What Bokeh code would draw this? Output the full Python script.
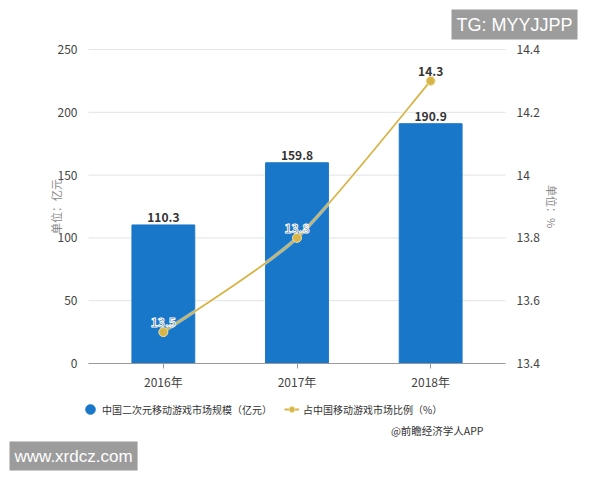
from bokeh.plotting import figure
from bokeh.models import (Range1d, LinearAxis, FixedTicker, Label, Legend, LegendItem,
                          ColumnDataSource)
from bokeh.core.properties import value
from bokeh.embed import file_html
from bokeh.resources import INLINE

years = ["2016年", "2017年", "2018年"]
market = [110.3, 159.8, 190.9]
share = [13.5, 13.8, 14.3]
left_ticks = [0, 50, 100, 150, 200, 250]
right_ticks = [13.4, 13.6, 13.8, 14.0, 14.2, 14.4]
right_tick_labels = ["13.4", "13.6", "13.8", "14", "14.2", "14.4"]

FONT = "Noto Sans CJK SC"
BLUE = "#1877c8"
GOLD = "#d8b548"
BOX = "#9c9c9c"

# ---- geometry: the whole canvas is the frame; the chart area sits inside it
W, H = 600, 480
PL, PR, PT, PB = 88, 505, 49, 363          # chart area in pixels
XL, XR = -0.56, 2.56                       # category axis extent
YL, YH = left_ticks[0], left_ticks[-1]
RL, RH = right_ticks[0], right_ticks[-1]
kx = (XR - XL) / (PR - PL)
ky = (YH - YL) / (PB - PT)
kr = (RH - RL) / (PB - PT)

xs = list(range(len(years)))

p = figure(width=W, height=H, output_backend="svg", toolbar_location=None,
           x_range=Range1d(XL - PL * kx, XR + (W - PR) * kx),
           y_range=Range1d(YL - (H - PB) * ky, YH + PT * ky),
           x_axis_location=None, y_axis_location=None,
           min_border=0, outline_line_color=None)
p.extra_y_ranges = {"pct": Range1d(RL - (H - PB) * kr, RH + PT * kr),
                    "off": Range1d(-2000, -1000)}   # legend proxies, drawn off-canvas
p.grid.visible = False

# grid lines at the left-axis ticks
p.segment(x0=[XL] * len(left_ticks), x1=[XR] * len(left_ticks), y0=left_ticks, y1=left_ticks,
          line_color="#e3e3e3", line_width=1)

# bars
src = ColumnDataSource(dict(x=xs, top=market, lbl=[f"{v:.1f}" for v in market]))
p.vbar(x="x", top="top", bottom=0, width=0.47, source=src, color=BLUE)
p.text(x="x", y="top", text="lbl", source=src, text_align="center", text_baseline="bottom",
       y_offset=-3, text_font=value(FONT), text_font_size="12px", text_font_style="bold",
       text_color="#333333")

# smooth line: bezier segments whose control points come from the data points
pts = list(zip(xs, share))
s = 0.12
bx0, by0, bx1, by1, cx0, cy0, cx1, cy1 = [], [], [], [], [], [], [], []
for i in range(len(pts) - 1):
    p0 = pts[i - 1] if i > 0 else pts[i]
    p1 = pts[i]
    p2 = pts[i + 1]
    p3 = pts[i + 2] if i + 2 < len(pts) else pts[i + 1]
    bx0.append(p1[0]); by0.append(p1[1]); bx1.append(p2[0]); by1.append(p2[1])
    cx0.append(p1[0] + (p2[0] - p0[0]) * s); cy0.append(p1[1] + (p2[1] - p0[1]) * s)
    cx1.append(p2[0] - (p3[0] - p1[0]) * s); cy1.append(p2[1] - (p3[1] - p1[1]) * s)
p.bezier(x0=bx0, y0=by0, x1=bx1, y1=by1, cx0=cx0, cy0=cy0, cx1=cx1, cy1=cy1,
         line_color="white", line_width=3.5, line_alpha=0.5, y_range_name="pct")
p.bezier(x0=bx0, y0=by0, x1=bx1, y1=by1, cx0=cx0, cy0=cy0, cx1=cx1, cy1=cy1,
         line_color=GOLD, line_width=1.8, y_range_name="pct")
lsrc = ColumnDataSource(dict(x=xs, y=share))
pts_r = p.scatter(x="x", y="y", source=lsrc, size=9, fill_color=GOLD, line_color="#f0e0a0",
                  line_width=1, y_range_name="pct")
on_bar = ColumnDataSource(dict(x=xs[:2], y=share[:2], lbl=[f"{v:.1f}" for v in share[:2]]))
off_bar = ColumnDataSource(dict(x=xs[2:], y=share[2:], lbl=[f"{v:.1f}" for v in share[2:]]))
p.text(x="x", y="y", text="lbl", source=on_bar, text_align="center", text_baseline="bottom",
       y_offset=-5, text_font=value(FONT), text_font_size="12px", text_font_style="bold",
       text_color="#24406e", text_outline_color="white", y_range_name="pct")
p.text(x="x", y="y", text="lbl", source=off_bar, text_align="center", text_baseline="bottom",
       y_offset=-5, text_font=value(FONT), text_font_size="12px", text_font_style="bold",
       text_color="#333333", y_range_name="pct")

# axes (pinned to the chart-area edges)
xa = LinearAxis(fixed_location=YL, bounds=(XL, XR), ticker=FixedTicker(ticks=xs))
xa.major_label_overrides = {i: y for i, y in enumerate(years)}
xa.axis_line_color = "#999999"
xa.major_tick_line_color = "#999999"
xa.major_tick_in = 0
xa.major_tick_out = 5
xa.minor_tick_line_color = None
xa.major_label_text_font = FONT
xa.major_label_text_font_size = "12px"
xa.major_label_text_color = "#444444"
xa.major_label_standoff = 4
p.add_layout(xa, "below")

ya = LinearAxis(fixed_location=XL, bounds=(YL, YH), ticker=FixedTicker(ticks=left_ticks))
ya.axis_line_color = None
ya.major_tick_line_color = None
ya.minor_tick_line_color = None
ya.major_label_text_font = FONT
ya.major_label_text_font_size = "12px"
ya.major_label_text_color = "#444444"
ya.major_label_standoff = 5
ya.axis_label = "单位：亿元"
ya.axis_label_text_font = FONT
ya.axis_label_text_font_size = "11px"
ya.axis_label_text_font_style = "normal"
ya.axis_label_text_color = "#888888"
ya.axis_label_standoff = -9
p.add_layout(ya, "left")

ra = LinearAxis(y_range_name="pct", fixed_location=XR, bounds=(RL, RH),
                ticker=FixedTicker(ticks=right_ticks))
ra.major_label_overrides = {t: l for t, l in zip(right_ticks, right_tick_labels)}
ra.axis_line_color = None
ra.major_tick_line_color = None
ra.minor_tick_line_color = None
ra.major_label_text_font = FONT
ra.major_label_text_font_size = "12px"
ra.major_label_text_color = "#444444"
ra.major_label_standoff = 5
ra.axis_label = "单位：%"
ra.axis_label_text_font = FONT
ra.axis_label_text_font_size = "11px"
ra.axis_label_text_font_style = "normal"
ra.axis_label_text_color = "#888888"
ra.axis_label_standoff = 1
p.add_layout(ra, "right")

# legend proxies (same data, mapped off-canvas so only their legend glyphs show)
lg_bar = p.scatter(x="x", y="top", source=src, color=BLUE, y_range_name="off")
lg_line = p.line(x=xs, y=share, line_color=GOLD, line_width=2, y_range_name="off")

common = dict(orientation="horizontal", label_text_font=FONT, label_text_font_size="10px",
              label_text_color="#333333", background_fill_alpha=0, border_line_color=None,
              padding=0, margin=0, spacing=0)
leg1 = Legend(items=[LegendItem(label="中国二次元移动游戏市场规模（亿元）", renderers=[lg_bar])],
              location=(78, 59), glyph_width=24, glyph_height=24, label_height=24,
              label_standoff=0, **common)
leg2 = Legend(items=[LegendItem(label="占中国移动游戏市场比例（%）", renderers=[lg_line, pts_r])],
              location=(284, 62), glyph_width=15, glyph_height=18, label_height=18,
              label_standoff=4, **common)
p.add_layout(leg1, "center")
p.add_layout(leg2, "center")

p.add_layout(Label(x=483, y=50, x_units="screen", y_units="screen", text="@前瞻经济学人APP",
                   text_align="right", text_baseline="middle", text_font=FONT,
                   text_font_size="10.5px", text_color="#333333"))
p.add_layout(Label(x=451, y=441, x_units="screen", y_units="screen", text="TG: MYYJJPP",
                   text_font="Liberation Sans", text_font_size="18px", text_color="white",
                   background_fill_color=BOX, padding=5, text_baseline="bottom"))
p.add_layout(Label(x=9, y=10, x_units="screen", y_units="screen", text="www.xrdcz.com",
                   text_font="Liberation Sans", text_font_size="17px", text_color="white",
                   background_fill_color=BOX, padding=5, text_baseline="bottom"))

open("out.html", "w").write(file_html(p, INLINE))
